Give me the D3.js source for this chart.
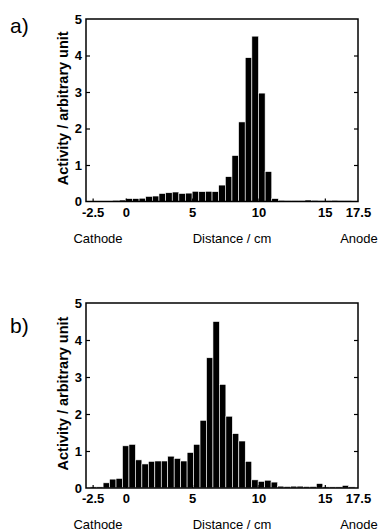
<!DOCTYPE html>
<html lang="en">
<head>
  <meta charset="UTF-8">
  <title>Activity vs distance histograms</title>
  <script src="https://d3js.org/d3.v7.min.js"></script>
  <style>
    body {
      margin: 0;
      background: #fff;
      font-family: "Liberation Sans", Arial, sans-serif;
    }
    .bar {
      fill: #000;
      stroke: #fff;
      stroke-width: 0.6px;
    }
    .frame {
      fill: none;
      stroke: #000;
      stroke-width: 1.5px;
    }
    .tick text {
      font-size: 13px;
      font-weight: bold;
      fill: #000;
    }
    .tick line {
      stroke: #000;
      stroke-width: 1.2px;
    }
  </style>
</head>
<body>
  <svg id="chart" width="378" height="531"></svg>

  <script>
    // Panel a: bins of 0.5 cm starting at -3 cm
    const startA = -3;
    const widthA = 0.5;
    const valuesA = [
      0.01, 0.01, 0.01, 0.01, 0.03, 0.04, 0.08, 0.08, 0.09, 0.14,
      0.15, 0.22, 0.24, 0.26, 0.22, 0.23, 0.28, 0.27, 0.28, 0.27,
      0.45, 0.68, 1.26, 2.18, 3.94, 4.53, 2.97, 0.82, 0.08, 0.03,
      0.02, 0.02, 0.02, 0.04, 0.03, 0.02, 0.02, 0.03, 0.02, 0.02, 0.01
    ];

    // Panel b: bins a little narrower than 0.5 cm
    const startB = -2.685;
    const widthB = 0.487;
    const valuesB = [
      0.03, 0.03, 0.14, 0.24, 0.26, 1.14, 1.18, 0.76, 0.65, 0.72,
      0.73, 0.73, 0.86, 0.8, 0.73, 0.96, 1.18, 1.83, 3.52, 4.5,
      2.8, 1.94, 1.47, 1.27, 0.72, 0.22, 0.18, 0.21, 0.16, 0.05,
      0.04, 0.05, 0.05, 0.04, 0.04, 0.12, 0.03, 0.03, 0.03, 0.07, 0.03
    ];

    const xTicks = [-2.5, 0, 5, 10, 15, 17.5];
    const yTicks = [0, 1, 2, 3, 4, 5];

    const svg = d3.select("#chart");
    const left = 86, right = 358;

    const x = d3.scaleLinear().domain([-3, 17.5]).range([left, right]);

    function drawPanel(label, labelY, values, start, width, top, bottom) {
      const y = d3.scaleLinear().domain([0, 5]).range([bottom, top]);
      const g = svg.append("g");

      const bins = values.map((v, i) => ({ x0: start + i * width, x1: start + (i + 1) * width, v: v }))
        .filter(d => d.x1 > -3 && d.x0 < 17.5);

      g.selectAll(".bar")
        .data(bins)
        .enter().append("rect")
        .attr("class", "bar")
        .attr("x", d => x(Math.max(d.x0, -3)))
        .attr("width", d => x(Math.min(d.x1, 17.5)) - x(Math.max(d.x0, -3)))
        .attr("y", d => y(d.v))
        .attr("height", d => bottom - y(d.v));

      // left axis, ticks pointing inward
      const yAxis = g.append("g")
        .attr("transform", `translate(${left},0)`)
        .call(d3.axisLeft(y).tickValues(yTicks).tickFormat(d => String(d)).tickSize(-4).tickSizeOuter(0).tickPadding(4));
      yAxis.select(".domain").remove();
      yAxis.selectAll(".tick line").filter(d => d === 0 || d === 5).remove();

      // right axis ticks, no labels
      const yRight = g.append("g")
        .attr("transform", `translate(${right},0)`)
        .call(d3.axisRight(y).tickValues(yTicks).tickFormat("").tickSize(-4).tickSizeOuter(0));
      yRight.select(".domain").remove();
      yRight.selectAll(".tick line").filter(d => d === 0 || d === 5).remove();

      const xAxis = g.append("g")
        .attr("transform", `translate(0,${bottom})`)
        .call(d3.axisBottom(x).tickValues(xTicks).tickFormat(d => String(d)).tickSize(-3).tickSizeOuter(0).tickPadding(6));
      xAxis.select(".domain").remove();
      xAxis.selectAll(".tick line").filter(d => d === 17.5).remove();

      g.append("rect")
        .attr("class", "frame")
        .attr("x", left)
        .attr("y", top)
        .attr("width", right - left)
        .attr("height", bottom - top);

      g.append("text")
        .attr("transform", `translate(68,${(top + bottom) / 2 - 2}) rotate(-90)`)
        .attr("text-anchor", "middle")
        .style("font-size", "14.5px")
        .style("font-weight", "bold")
        .text("Activity / arbitrary unit");

      g.append("text")
        .attr("x", 10)
        .attr("y", labelY)
        .style("font-size", "21px")
        .text(label);

      const lab = g.append("g").style("font-size", "13px");
      lab.append("text").attr("x", 98).attr("y", bottom + 41).attr("text-anchor", "middle").text("Cathode");
      lab.append("text").attr("x", 232).attr("y", bottom + 41).attr("text-anchor", "middle").text("Distance / cm");
      lab.append("text").attr("x", 359).attr("y", bottom + 41).attr("text-anchor", "middle").text("Anode");
    }

    drawPanel("a)", 33, valuesA, startA, widthA, 19, 201.5);
    drawPanel("b)", 333, valuesB, startB, widthB, 303, 488);
  </script>
</body>
</html>
